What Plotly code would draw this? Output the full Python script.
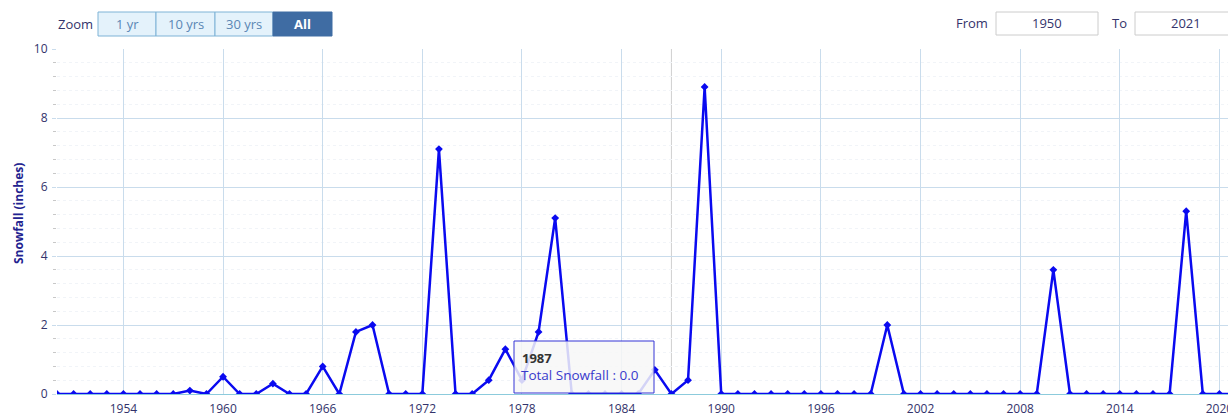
import plotly.graph_objects as go

# Annual snowfall totals, 1950-2021
years = list(range(1950, 2022))
snowfall = [
    0, 0, 0, 0, 0, 0, 0, 0,            # 1950-1957
    0.1, 0, 0.5, 0, 0, 0.3, 0, 0,      # 1958-1965
    0.8, 0, 1.8, 2.0, 0, 0, 0, 7.1,    # 1966-1973
    0, 0, 0.4, 1.3, 0.4, 1.8, 5.1,     # 1974-1980
    0, 0, 0, 0, 0,                     # 1981-1985
    0.7, 0, 0.4, 8.9,                  # 1986-1989
    0, 0, 0, 0, 0, 0, 0, 0, 0, 0,      # 1990-1999
    2.0,                               # 2000
    0, 0, 0, 0, 0, 0, 0, 0, 0,         # 2001-2009
    3.6,                               # 2010
    0, 0, 0, 0, 0, 0, 0,               # 2011-2017
    5.3, 0, 0, 0,                      # 2018-2021
]
x_ticks = list(range(1954, 2021, 6))
y_ticks = [0, 2, 4, 6, 8, 10]
zoom_buttons = ["1 yr", "10 yrs", "30 yrs", "All"]
range_from, range_to = "1950", "2021"
hover_year = 1987

W, H = 1228, 417
L, R, T, B = 57, 0, 49, 23
PW, PH = W - L - R, H - T - B

FONT = "Open Sans, Noto Sans, sans-serif"
TEXT = "#33336b"
GRID = "#c9dcec"


def px(x):
    return (x - L) / PW


def py(y):
    return (H - B - y) / PH


def label(text, x, y, size=13, color=TEXT, xanchor="center", **kw):
    return dict(text=text, x=px(x), y=py(y), xref="paper", yref="paper",
                showarrow=False, xanchor=xanchor, yanchor="middle",
                font=dict(family=FONT, size=size, color=color), **kw)


fig = go.Figure()
fig.add_trace(go.Scatter(
    x=years, y=snowfall, mode="lines+markers",
    line=dict(color="#0a0af0", width=2.5),
    marker=dict(symbol="diamond", size=6, color="#0a0af0"),
    name="Total Snowfall", showlegend=False,
))

shapes = []
annotations = []

# crosshair at the hovered year
shapes.append(dict(type="line", xref="x", yref="paper", x0=hover_year, x1=hover_year,
                   y0=0, y1=1, line=dict(color="#cfcfcf", width=1), layer="below"))

# zoom buttons
annotations.append(label("Zoom", 75, 24))
edges = [98, 156, 215, 273, 332]
for i, name in enumerate(zoom_buttons):
    active = name == "All"
    shapes.append(dict(type="rect", xref="paper", yref="paper",
                       x0=px(edges[i]), x1=px(edges[i + 1]), y0=py(36), y1=py(12),
                       fillcolor="#3f6ca3" if active else "#e4f2fb",
                       line=dict(color="#3f6ca3" if active else "#7fb3d6", width=1)))
    annotations.append(label(f"<b>{name}</b>" if active else name,
                             (edges[i] + edges[i + 1]) / 2, 24,
                             color="#ffffff" if active else "#5a86b4"))

# date range inputs
annotations.append(label("From", 972, 23))
annotations.append(label("To", 1119, 23))
for (x0, x1), val in [((996, 1098), range_from), ((1135, 1236), range_to)]:
    shapes.append(dict(type="rect", xref="paper", yref="paper",
                       x0=px(x0), x1=px(x1), y0=py(35), y1=py(12),
                       fillcolor="#ffffff", line=dict(color="#cccccc", width=1)))
    annotations.append(label(val, (x0 + x1) / 2, 23))

# y axis title
annotations.append(label("<b>Snowfall (inches)</b>", 18, 214, size=12,
                         color="#22228f", textangle=-90))

# tooltip for the hovered year
hover_val = snowfall[years.index(hover_year)]
shapes.append(dict(type="rect", xref="paper", yref="paper",
                   x0=px(514), x1=px(654), y0=py(393), y1=py(341),
                   fillcolor="rgba(247,247,247,0.85)",
                   line=dict(color="#3434d6", width=1)))
annotations.append(label(f"<b>{hover_year}</b>", 520, 358, color="#333333",
                         xanchor="left"))
annotations.append(label(f"Total Snowfall : {hover_val:.1f}", 519, 375, size=13.5,
                         color="#3a3acc", xanchor="left"))

fig.update_layout(
    width=W, height=H,
    margin=dict(l=L, r=R, t=T, b=B, autoexpand=False),
    paper_bgcolor="white", plot_bgcolor="white",
    font=dict(family=FONT, size=12, color=TEXT),
    shapes=shapes, annotations=annotations,
    xaxis=dict(range=[1950, 1950 + PW / 16.606], tickvals=x_ticks,
               ticktext=[str(v) for v in x_ticks], showgrid=True, gridcolor=GRID,
               gridwidth=1, zeroline=False, showline=True, linecolor="#8ccbdc",
               linewidth=1, ticks="", ticklabelstandoff=4,
               ticklabeloverflow="allow", automargin=False,
               tickfont=dict(family=FONT, size=12, color=TEXT), fixedrange=True),
    yaxis=dict(range=[0, 10], tickvals=y_ticks, showgrid=True, gridcolor=GRID,
               gridwidth=1, zeroline=False, showline=False, ticks="outside",
               ticklen=4, tickcolor=GRID, ticklabelstandoff=2, automargin=False,
               tickfont=dict(family=FONT, size=12, color=TEXT),
               minor=dict(dtick=0.4, tick0=0, showgrid=True, gridcolor="#f1f4f8",
                          griddash="dot", ticks="outside", ticklen=3,
                          tickcolor="#c8c8c8"),
               fixedrange=True),
    hovermode=False,
)

fig.write_html("out.html")
